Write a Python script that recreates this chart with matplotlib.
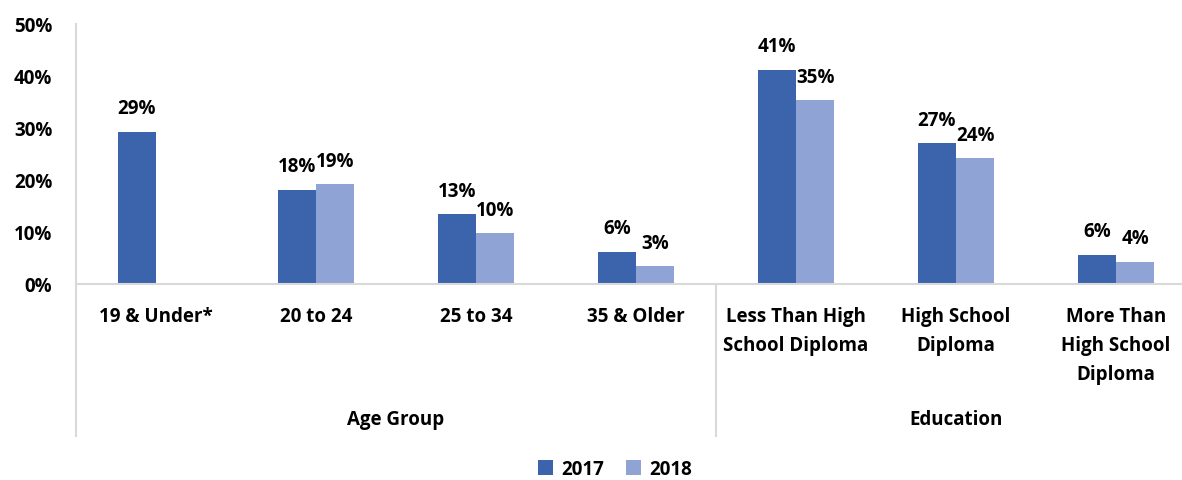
import numpy as np
import matplotlib.pyplot as plt
from matplotlib.lines import Line2D

plt.rcParams['font.family'] = ['Open Sans', 'DejaVu Sans']
plt.rcParams['font.weight'] = 'bold'

categories = ["19 & Under*", "20 to 24", "25 to 34", "35 & Older",
              "Less Than High\nSchool Diploma", "High School\nDiploma",
              "More Than\nHigh School\nDiploma"]
vals_2017 = [29.3, 18.1, 13.4, 6.2, 41.2, 27.1, 5.6]
vals_2018 = [np.nan, 19.2, 9.8, 3.4, 35.3, 24.2, 4.3]
groups = ["Age Group", "Education"]
group_sizes = [4, 3]

c17 = "#3C64AD"
c18 = "#8FA3D4"
grid_c = "#D9D9D9"
fs = 13.5

fig = plt.figure(figsize=(11.82, 4.81), dpi=100)
ax = fig.add_axes([76 / 1182, (481 - 285) / 481, 1120 / 1182, 260 / 481])

x = np.arange(len(categories))
w = 0.24
b17 = ax.bar(x - w / 2, vals_2017, w, color=c17, label="2017")
b18 = ax.bar(x + w / 2, vals_2018, w, color=c18, label="2018")

for bars, vals in ((b17, vals_2017), (b18, vals_2018)):
    for rect, v in zip(bars, vals):
        if np.isnan(v):
            continue
        ax.text(rect.get_x() + rect.get_width() / 2, v + 2.6, f"{round(v)}%",
                ha="center", va="bottom", fontsize=fs, fontweight="bold")

ax.set_xlim(-0.5, len(categories) - 0.5)
ax.set_ylim(0, 50)
ax.set_yticks(range(0, 51, 10))
ax.set_yticklabels([f"{t}%" for t in range(0, 51, 10)], fontsize=fs, fontweight="bold")
ax.set_xticks(x)
ax.set_xticklabels(categories, fontsize=fs, fontweight="bold", va="top",
                   linespacing=1.6)
ax.tick_params(axis="both", length=0)
ax.tick_params(axis="x", pad=16)
ax.tick_params(axis="y", pad=17)

for s in ("top", "right", "left"):
    ax.spines[s].set_visible(False)
ax.spines["bottom"].set_color(grid_c)
ax.spines["bottom"].set_linewidth(1.5)

# vertical frame lines of the category axis
low = (285 - 437) / 260
ax.add_line(Line2D([-0.5, -0.5], [low, 1.0], transform=ax.get_xaxis_transform(),
                   color=grid_c, lw=1.5, clip_on=False))
ax.add_line(Line2D([3.5, 3.5], [low, 0.0], transform=ax.get_xaxis_transform(),
                   color=grid_c, lw=1.5, clip_on=False))

start = -0.5
for g, n in zip(groups, group_sizes):
    ax.text(start + n / 2, (285 - 420) / 260, g, transform=ax.get_xaxis_transform(),
            ha="center", va="center", fontsize=fs, fontweight="bold")
    start += n

fig.legend(handles=[b17, b18], loc="center", bbox_to_anchor=(615 / 1182, 1 - 470 / 481),
           ncol=2, frameon=False, fontsize=fs, handlelength=0.8, handleheight=0.8,
           columnspacing=1.2, handletextpad=0.4)

fig.savefig("out.png", dpi=100)
